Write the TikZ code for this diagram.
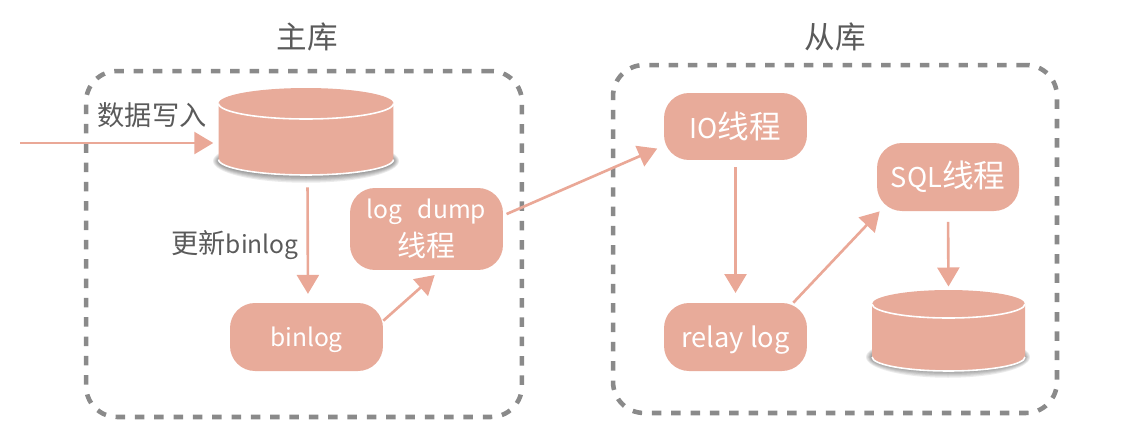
\documentclass[tikz,border=0pt]{standalone}
\usepackage{fontspec}
\setmainfont{Noto Sans CJK SC}
\usetikzlibrary{arrows.meta}

\definecolor{boxfill}{HTML}{E8AB9A}
\definecolor{flowcol}{HTML}{EAA897}
\definecolor{framecol}{HTML}{8A8A8A}
\definecolor{inkcol}{HTML}{5A5A5A}

\newcommand{\zhbig}{\fontsize{17.4}{20}\selectfont}
\newcommand{\zhmid}{\fontsize{15.5}{19}\selectfont}
\newcommand{\zhbox}{\fontsize{16.5}{19}\selectfont}
\newcommand{\zhwide}{\fontsize{18}{19}\selectfont}
\newcommand{\enbox}{\fontsize{14}{19}\selectfont}
\newcommand{\enwide}{\fontsize{15.5}{19}\selectfont}

\tikzset{
  frame/.style={draw=framecol,line width=2.6pt,dash pattern=on 5.4pt off 5.6pt,rounded corners=.62cm,inner sep=0,
    minimum width=#1},
  proc/.style={fill=boxfill,rounded corners=.5cm,inner sep=0,text=white,align=center,minimum width=#1},
  dbase/.style={inner sep=0,outer sep=0,minimum width=#1},
  rim/.style={draw=white,line width=.9pt},
  flow/.style={draw=flowcol,line width=1.5pt,-{Triangle[length=.38cm,width=.44cm]}},
  ink/.style={text=inkcol,inner sep=0}
}

% body of a drum: node name, x radius, y radius
\newcommand{\dbbody}[3]{
  \fill[boxfill] ([yshift=-#3]#1.north west) arc[start angle=180,end angle=0,x radius=#2,y radius=#3]
    -- ([yshift=#3]#1.south east) arc[start angle=0,end angle=-180,x radius=#2,y radius=#3] -- cycle;
  \draw[rim] ([yshift=-#3]#1.north west) arc[start angle=180,end angle=360,x radius=#2,y radius=#3];
  \draw[rim] ([yshift=#3]#1.south west) arc[start angle=180,end angle=360,x radius=#2,y radius=#3];
}
\newcommand{\dbshadow}[3]{
  \foreach \s in {0,1,...,5}
    \fill[black,opacity=.08] (#1) ellipse ({#2+\s*.02cm} and {#3+\s*.025cm});
}

\begin{document}
\begin{tikzpicture}[x=.02cm,y=-.02cm]
\useasboundingbox (0,0) rectangle (1142,440);

\node[frame=8.72cm,minimum height=6.92cm] (mainframe) at (304,244) {};
\node[frame=8.88cm,minimum height=6.96cm] (slaveframe) at (835,239) {};

\node[ink] (maintitle) at (307,37) {\zhbig 主库};
\node[ink] (slavetitle) at (835,37) {\zhbig 从库};

\coordinate (mainbase) at (306,161);
\dbshadow{mainbase}{1.76cm}{.31cm}
\node[dbase=3.5cm,minimum height=1.74cm] (maindb) at (306,131.5) {};
\dbbody{maindb}{1.75cm}{.31cm}

\coordinate (slavebase) at (948,357);
\dbshadow{slavebase}{1.54cm}{.29cm}
\node[dbase=3.06cm,minimum height=1.62cm] (slavedb) at (948.5,330.5) {};
\dbbody{slavedb}{1.53cm}{.28cm}

\node[proc=3.06cm,minimum height=1.64cm] (logdump) at (426.5,229) {\enbox log\ \ \,dump\\[3pt]\zhbox 线程};
\node[proc=3.06cm,minimum height=1.36cm] (binlog) at (306.5,337) {\raisebox{-5.4pt}[0pt][0pt]{\enbox binlog}};
\node[proc=2.86cm,minimum height=1.34cm] (iothread) at (735.5,126.5) {\enwide IO\zhwide 线程};
\node[proc=2.86cm,minimum height=1.36cm] (relaylog) at (735.5,337) {\raisebox{-5.8pt}[0pt][0pt]{\enwide relay log}};
\node[proc=2.84cm,minimum height=1.36cm] (sqlthread) at (948,177) {\enwide SQL\zhwide 线程};

\node[ink] (writelabel) at (152,115) {\zhmid 数据写入};
\node[ink] (updatelabel) at (235,245) {\zhmid 更新\enbox binlog};

\coordinate (source) at (20,143);
\draw[flow,shorten >=3pt] (source) -- (maindb.west |- source);
\draw[flow,shorten <=7pt,shorten >=5pt] ([xshift=.03cm]maindb.south) -- ([xshift=.03cm]binlog.north);
\draw[flow,shorten >=4pt] (binlog.12) -- (logdump.-72);
\draw[flow,shorten <=2pt,shorten >=4pt] (logdump.10) -- (iothread.-165);
\draw[flow,shorten <=4pt,shorten >=5.5pt] (iothread.south) -- (relaylog.north);
\draw[flow] ([xshift=-.28cm]relaylog.north east) -- ([xshift=.06cm]sqlthread.south west);
\draw[flow,shorten <=6pt,shorten >=2pt] (sqlthread.south) -- (slavedb.north);
\end{tikzpicture}
\end{document}
